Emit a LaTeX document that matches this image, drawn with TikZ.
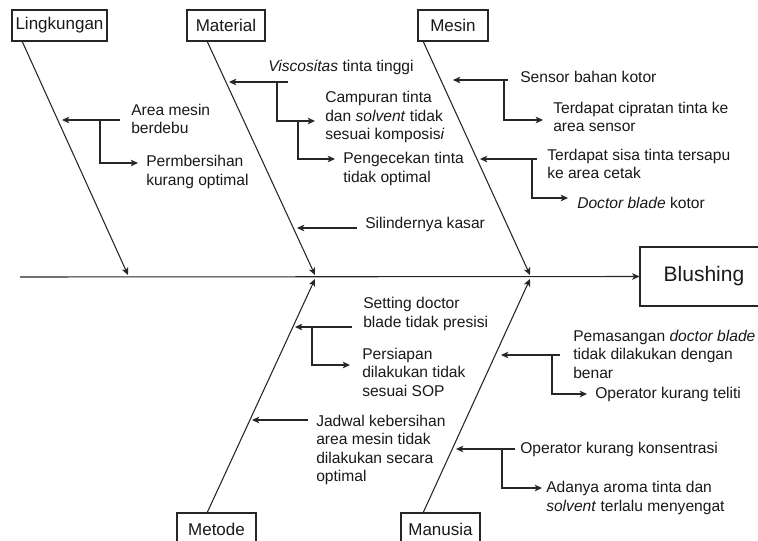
\documentclass[tikz,border=0pt]{standalone}
\usepackage{fontspec}
\setmainfont{Liberation Sans}
\usetikzlibrary{arrows.meta}
\begin{document}
\begin{tikzpicture}[x=0.75pt,y=-0.75pt,
  >={Stealth[length=5.5pt,width=5pt,inset=1.5pt]},
  ln/.style={draw=black!85, line width=0.8pt},
  bx/.style={draw=black!85, line width=0.8pt, fill=white, inner sep=0pt, minimum height=23.25pt, font=\fontsize{12.75}{15}\selectfont, text=black!90},
  txt/.style={anchor=west, align=left, inner sep=0pt, font=\fontsize{11.7}{13.9}\selectfont, text=black!90},
]
\useasboundingbox (0,0) rectangle (758,540);
% category boxes
\node[bx, minimum width=71.25pt] (lingk) at (59.5,25.5) {Lingkungan};
\node[bx, minimum width=58.5pt] (mat) at (226,25.5) {Material};
\node[bx, minimum width=52.5pt] (mes) at (453,25.5) {Mesin};
\node[bx, minimum width=59.25pt, minimum height=24pt] (met) at (216.5,529) {Metode};
\node[bx, minimum width=59.25pt, minimum height=24pt] (man) at (440.5,529) {Manusia};
\node[bx, minimum width=96pt, minimum height=44.25pt, font=\fontsize{15.75}{18}\selectfont] (blush) at (704,276.5) {Blushing};
% bones
\coordinate (S0) at (20,277);
\coordinate (Lt) at (22,41);  \coordinate (Lh) at (128,275);
\coordinate (Mt) at (207,41); \coordinate (Mh) at (315,275);
\coordinate (Et) at (423,41); \coordinate (Eh) at (530,275);
\coordinate (Dt) at (207,513); \coordinate (Dh) at (315,279);
\coordinate (Nt) at (423,513); \coordinate (Nh) at (530,279);
\draw[ln,->] (S0) -- (blush.west);
\draw[ln,->] (Lt) -- (Lh);
\draw[ln,->] (Mt) -- (Mh);
\draw[ln,->] (Et) -- (Eh);
\draw[ln,->] (Dt) -- (Dh);
\draw[ln,->] (Nt) -- (Nh);
% Lingkungan
\node[txt] (t1) at (131,119) {Area mesin\\berdebu};
\node[txt] (t2) at (146,172) {Permbersihan\\kurang optimal};
\coordinate (a1s) at (120,120); \coordinate (a1e) at (62,120);
\coordinate (a1v) at (100,120); \coordinate (a2e) at (138,163);
\draw[ln,->] (a1s) -- (a1e);
\draw[ln,->] (a1v) |- (a2e);
% Material
\node[txt] (t3) at (268,67) {\textit{Viscositas} tinta tinggi};
\node[txt] (t4) at (325,117) {Campuran tinta\\dan \textit{solvent} tidak\\sesuai komposis\textit{i}};
\node[txt] (t5) at (343,169) {Pengecekan tinta\\tidak optimal};
\node[txt] (t6) at (365,224) {Silindernya kasar};
\coordinate (b1s) at (288,82); \coordinate (b1e) at (229,82);
\coordinate (b1v) at (277,82); \coordinate (b2e) at (315,121);
\coordinate (b2v) at (298,121); \coordinate (b3e) at (335,159);
\coordinate (b4s) at (357,228); \coordinate (b4e) at (297,228);
\draw[ln,->] (b1s) -- (b1e);
\draw[ln,->] (b1v) |- (b2e);
\draw[ln,->] (b2v) |- (b3e);
\draw[ln,->] (b4s) -- (b4e);
% Mesin
\node[txt] (t7) at (520,77) {Sensor bahan kotor};
\node[txt] (t8) at (553,117) {Terdapat cipratan tinta ke\\area sensor};
\node[txt] (t9) at (547,164) {Terdapat sisa tinta tersapu\\ke area cetak};
\node[txt] (t10) at (577,203) {\textit{Doctor blade} kotor};
\coordinate (c1s) at (508,80); \coordinate (c1e) at (453,80);
\coordinate (c1v) at (504,80); \coordinate (c2e) at (543,120);
\coordinate (c3s) at (537,159); \coordinate (c3e) at (480,159);
\coordinate (c3v) at (532,159); \coordinate (c4e) at (568,198);
\draw[ln,->] (c1s) -- (c1e);
\draw[ln,->] (c1v) |- (c2e);
\draw[ln,->] (c3s) -- (c3e);
\draw[ln,->] (c3v) |- (c4e);
% Metode
\node[txt] (t11) at (363,314) {Setting doctor\\blade tidak presisi};
\node[txt] (t12) at (362,372) {Persiapan\\dilakukan tidak\\sesuai SOP};
\node[txt] (t13) at (316,450) {Jadwal kebersihan\\area mesin tidak\\dilakukan secara\\optimal};
\coordinate (d1s) at (352,327); \coordinate (d1e) at (295,327);
\coordinate (d1v) at (312,327); \coordinate (d2e) at (350,365);
\coordinate (d3s) at (308,420); \coordinate (d3e) at (252,420);
\draw[ln,->] (d1s) -- (d1e);
\draw[ln,->] (d1v) |- (d2e);
\draw[ln,->] (d3s) -- (d3e);
% Manusia
\node[txt] (t14) at (573,354) {Pemasangan \textit{doctor blade}\\tidak dilakukan dengan\\benar};
\node[txt] (t15) at (595,394) {Operator kurang teliti};
\node[txt] (t16) at (520,449) {Operator kurang konsentrasi};
\node[txt] (t17) at (546,498) {Adanya aroma tinta dan\\\textit{solvent} terlalu menyengat};
\coordinate (e1s) at (560,355); \coordinate (e1e) at (501,355);
\coordinate (e1v) at (552,355); \coordinate (e2e) at (587,394);
\coordinate (e3s) at (515,449); \coordinate (e3e) at (456,449);
\coordinate (e3v) at (502,449); \coordinate (e4e) at (542,488);
\draw[ln,->] (e1s) -- (e1e);
\draw[ln,->] (e1v) |- (e2e);
\draw[ln,->] (e3s) -- (e3e);
\draw[ln,->] (e3v) |- (e4e);
\end{tikzpicture}
\end{document}
